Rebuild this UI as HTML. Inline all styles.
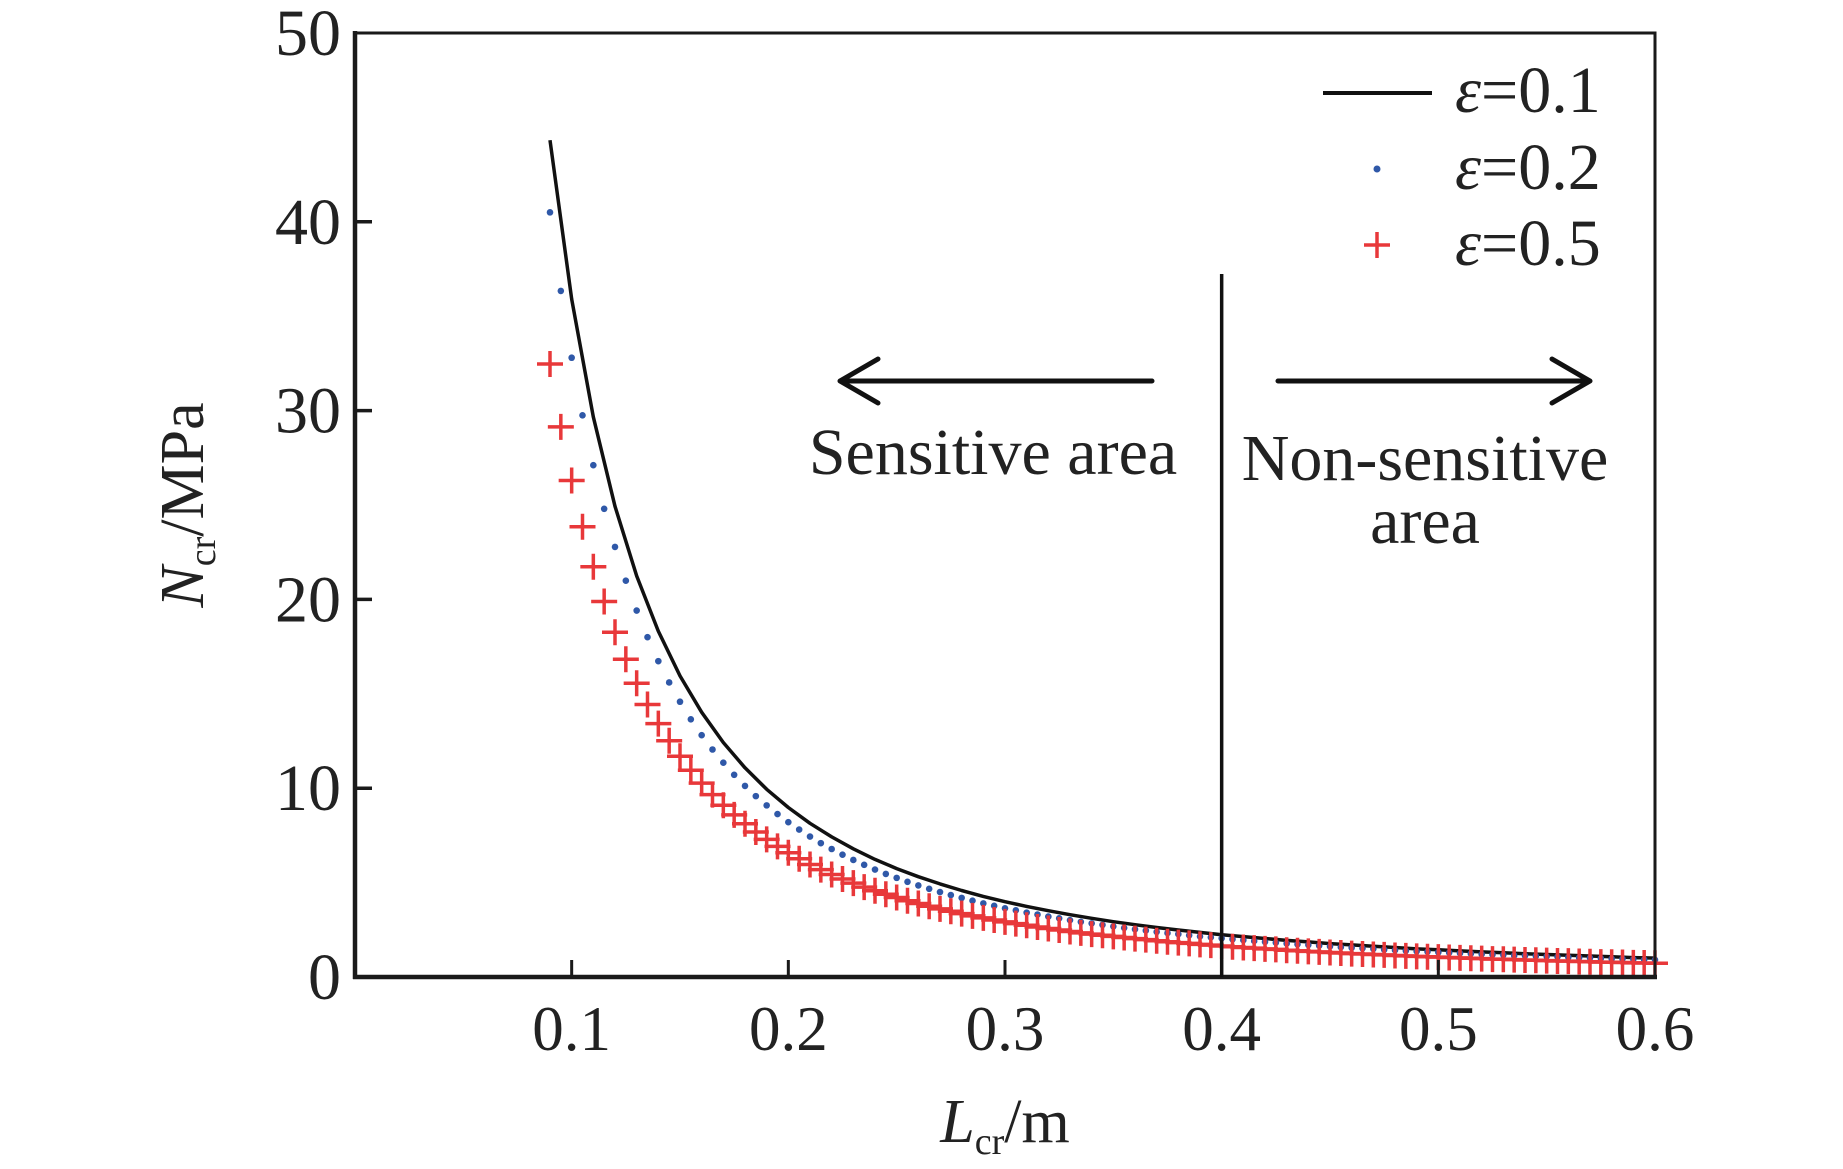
<!DOCTYPE html>
<html><head><meta charset="utf-8"><style>
html,body{margin:0;padding:0;background:#fff;}
svg{display:block;font-family:"Liberation Serif",serif;}
</style></head><body>
<svg id="chart" width="1843" height="1169" viewBox="0 0 1843 1169">
<g id="plot"></g>
</svg>
<script>
const xTicks = [0.1, 0.2, 0.3, 0.4, 0.5, 0.6];
const yTicks = [0, 10, 20, 30, 40, 50];
const lineX = [0.09,0.10,0.11,0.12,0.13,0.14,0.15,0.16,0.17,0.18,0.19,0.20,0.21,0.22,0.23,0.24,0.25,0.26,0.27,0.28,0.29,0.30,0.31,0.32,0.33,0.34,0.35,0.36,0.37,0.38,0.39,0.40,0.41,0.42,0.43,0.44,0.45,0.46,0.47,0.48,0.49,0.50,0.51,0.52,0.53,0.54,0.55,0.56,0.57,0.58,0.59,0.60];
const eps01 = [44.32,35.90,29.67,24.93,21.24,18.32,15.95,14.02,12.42,11.08,9.94,8.98,8.14,7.42,6.79,6.23,5.74,5.31,4.93,4.58,4.27,3.99,3.74,3.51,3.30,3.11,2.93,2.77,2.62,2.49,2.36,2.24,2.14,2.04,1.94,1.86,1.77,1.70,1.63,1.56,1.49,1.44,1.38,1.33,1.28,1.23,1.19,1.15,1.11,1.07,1.03,1.00];
const ptX = [0.090,0.095,0.100,0.105,0.110,0.115,0.120,0.125,0.130,0.135,0.140,0.145,0.150,0.155,0.160,0.165,0.170,0.175,0.180,0.185,0.190,0.195,0.200,0.205,0.210,0.215,0.220,0.225,0.230,0.235,0.240,0.245,0.250,0.255,0.260,0.265,0.270,0.275,0.280,0.285,0.290,0.295,0.300,0.305,0.310,0.315,0.320,0.325,0.330,0.335,0.340,0.345,0.350,0.355,0.360,0.365,0.370,0.375,0.380,0.385,0.390,0.395,0.400,0.405,0.410,0.415,0.420,0.425,0.430,0.435,0.440,0.445,0.450,0.455,0.460,0.465,0.470,0.475,0.480,0.485,0.490,0.495,0.500,0.505,0.510,0.515,0.520,0.525,0.530,0.535,0.540,0.545,0.550,0.555,0.560,0.565,0.570,0.575,0.580,0.585,0.590,0.595,0.600];
const eps02 = [40.50,36.34,32.80,29.75,27.11,24.80,22.78,20.99,19.41,18.00,16.73,15.60,14.58,13.65,12.81,12.05,11.35,10.71,10.12,9.58,9.09,8.63,8.20,7.81,7.44,7.09,6.78,6.48,6.20,5.94,5.69,5.46,5.25,5.04,4.85,4.67,4.50,4.34,4.19,4.04,3.90,3.77,3.64,3.53,3.41,3.31,3.20,3.11,3.01,2.92,2.84,2.76,2.68,2.60,2.53,2.46,2.39,2.33,2.27,2.21,2.15,2.10,2.05,2.00,1.95,1.91,1.86,1.82,1.77,1.73,1.70,1.66,1.62,1.58,1.55,1.52,1.49,1.45,1.42,1.39,1.36,1.34,1.31,1.29,1.26,1.24,1.21,1.19,1.17,1.14,1.13,1.11,1.09,1.07,1.05,1.03,1.01,0.99,0.97,0.96,0.94,0.92,0.91];
const eps05 = [32.47,29.14,26.30,23.85,21.73,19.89,18.26,16.83,15.56,14.43,13.42,12.51,11.69,10.95,10.27,9.66,9.10,8.59,8.12,7.68,7.29,6.92,6.58,6.26,5.96,5.69,5.43,5.19,4.97,4.76,4.57,4.38,4.21,4.04,3.89,3.75,3.61,3.48,3.36,3.24,3.13,3.02,2.92,2.83,2.74,2.65,2.57,2.49,2.41,2.34,2.27,2.21,2.15,2.09,2.03,1.98,1.92,1.87,1.82,1.78,1.73,1.69,1.64,1.60,1.56,1.53,1.49,1.46,1.42,1.39,1.36,1.33,1.30,1.27,1.24,1.22,1.19,1.17,1.14,1.12,1.09,1.07,1.05,1.03,1.01,0.99,0.97,0.95,0.94,0.92,0.90,0.89,0.87,0.85,0.84,0.82,0.81,0.79,0.78,0.77,0.75,0.74,0.73];
const dividerX = 0.4;

const NS = "http://www.w3.org/2000/svg";
const g = document.getElementById('plot');
const X0 = 355, X1 = 1655, Y0 = 977, Y1 = 33;
function sx(v){ return X0 + v / 0.6 * (X1 - X0); }
function sy(v){ return Y0 - v / 50 * (Y0 - Y1); }
function mk(tag, attrs, parent){
  const e = document.createElementNS(NS, tag);
  for (const k in attrs) e.setAttribute(k, attrs[k]);
  (parent || g).appendChild(e);
  return e;
}

let d = '';
lineX.forEach((x, i) => { d += (i ? 'L' : 'M') + sx(x).toFixed(1) + ' ' + sy(eps01[i]).toFixed(1); });
const ln = mk('path', {d: d, fill: 'none', stroke: '#111', 'stroke-width': 3.5, 'stroke-linejoin': 'round'});



ptX.forEach((x, i) => {
  const c = mk('circle', {cx: sx(x), cy: sy(eps02[i]), r: 3.3, fill: '#2f58a8'});
  
  
});
ptX.forEach((x, i) => {
  const cx = sx(x), cy = sy(eps05[i]), a = 13;
  const p = mk('path', {d: `M${cx-a} ${cy}H${cx+a}M${cx} ${cy-a}V${cy+a}`, stroke: '#e8383a', 'stroke-width': 3.5, fill: 'none'});
  
  
});

const box = mk('path', {d: `M${X0} ${Y1}H${X1}V${Y0}`, fill: 'none', stroke: '#1a1a1a', 'stroke-width': 3});


const xa = mk('line', {x1: X0 - 2, y1: Y0, x2: X1 + 2, y2: Y0, stroke: '#1a1a1a', 'stroke-width': 4.5});


const ya = mk('line', {x1: X0, y1: Y1 - 2, x2: X0, y2: Y0 + 2, stroke: '#1a1a1a', 'stroke-width': 4.5});



xTicks.forEach(v => {
  const x = sx(v);
  if (v < 0.6) {
    const t = mk('line', {x1: x, y1: Y0, x2: x, y2: Y0 - 17, stroke: '#1a1a1a', 'stroke-width': 3});
    
    
  }
  const tx = mk('text', {x: x, y: 1050, 'text-anchor': 'middle', 'font-size': 63, fill: '#222'});
  tx.textContent = v.toFixed(1);
  
  
});
yTicks.forEach(v => {
  const y = sy(v);
  if (v > 0 && v < 50) {
    const t = mk('line', {x1: X0, y1: y, x2: X0 + 17, y2: y, stroke: '#1a1a1a', 'stroke-width': 3.5});
    
    
  }
  const ty = mk('text', {x: 341, y: y + 22, 'text-anchor': 'end', 'font-size': 66, fill: '#222'});
  ty.textContent = String(v);
  
  
});

const dv = mk('line', {x1: sx(dividerX), y1: 274, x2: sx(dividerX), y2: Y0, stroke: '#111', 'stroke-width': 3.5});


</script>
<svg width="1843" height="1169" viewBox="0 0 1843 1169" style="position:absolute;left:0;top:0;font-family:'Liberation Serif',serif">
  <g stroke="#111" stroke-width="5" fill="none" stroke-linecap="round" stroke-linejoin="round">
    <path d="M1152 381H840M878 359L840 381L878 403"/>
  </g>
  <g stroke="#111" stroke-width="5" fill="none" stroke-linecap="round" stroke-linejoin="round">
    <path d="M1278 381H1590M1552 359L1590 381L1552 403"/>
  </g>
  <text x="993" y="474" text-anchor="middle" font-size="66" fill="#222">Sensitive area</text>
  <text x="1425" y="480" text-anchor="middle" font-size="66" fill="#222">Non-sensitive</text>
  <text x="1425" y="543" text-anchor="middle" font-size="66" fill="#222">area</text>
  <g>
    <line x1="1323" y1="93" x2="1432" y2="93" stroke="#111" stroke-width="4"/>
    <text x="1455" y="112" font-size="66" fill="#222"><tspan font-style="italic">ε</tspan>=0.1</text>
    <circle cx="1377" cy="169" r="3.5" fill="#2f58a8"/>
    <text x="1455" y="189" font-size="66" fill="#222"><tspan font-style="italic">ε</tspan>=0.2</text>
    <path d="M1364 245H1390M1377 232V258" stroke="#e8383a" stroke-width="3.5"/>
    <text x="1455" y="265" font-size="66" fill="#222"><tspan font-style="italic">ε</tspan>=0.5</text>
  </g>
  <text x="1005" y="1142" text-anchor="middle" font-size="62" fill="#222"><tspan font-style="italic">L</tspan><tspan font-size="38" dy="12">cr</tspan><tspan dy="-12">/m</tspan></text>
  <text transform="translate(203,505) rotate(-90)" text-anchor="middle" font-size="62" fill="#222"><tspan font-style="italic">N</tspan><tspan font-size="38" dy="12">cr</tspan><tspan dy="-12">/MPa</tspan></text>
</svg>
</body></html>
